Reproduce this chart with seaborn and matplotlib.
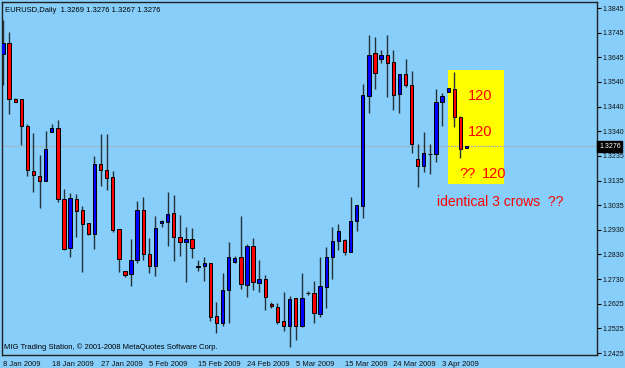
import numpy as np
import pandas as pd
import matplotlib
matplotlib.use("Agg")
import matplotlib.pyplot as plt
from matplotlib.patches import Rectangle
import seaborn as sns

# ---------------- data (EURUSD daily) ----------------
opens = [1.3654, 1.3700, 1.3469, 1.3469, 1.3358, 1.3173, 1.3155, 1.3132, 1.3334, 1.3350,
         1.3058, 1.2859, 1.3060, 1.3012, 1.2959, 1.2915, 1.3202, 1.3180, 1.3148, 1.2934,
         1.2764, 1.2749, 1.2809, 1.3012, 1.2831, 1.2783, 1.2959, 1.2966, 1.3000, 1.2903,
         1.2881, 1.2894, 1.2778, 1.2785, 1.2794, 1.2578, 1.2550, 1.2683, 1.2801, 1.2819,
         1.2705, 1.2866, 1.2715, 1.2731, 1.2627, 1.2616, 1.2557, 1.2536, 1.2650, 1.2536,
         1.2673, 1.2673, 1.2586, 1.2698, 1.2822, 1.2886, 1.2890, 1.2842, 1.2968, 1.3031,
         1.3484, 1.3659, 1.3635, 1.3652, 1.3622, 1.3490, 1.3573, 1.3528, 1.3224, 1.3196,
         1.3243, 1.3243, 1.3457, 1.3498, 1.3512, 1.3395, 1.3269]
highs = [1.3796, 1.3747, 1.3475, 1.3469, 1.3366, 1.3329, 1.3240, 1.3340, 1.3366, 1.3384,
         1.3099, 1.3085, 1.3080, 1.3030, 1.2959, 1.3236, 1.3325, 1.3325, 1.3175, 1.2934,
         1.2764, 1.2893, 1.3052, 1.3066, 1.2900, 1.2990, 1.2973, 1.3089, 1.3074, 1.2993,
         1.2943, 1.2938, 1.2808, 1.2822, 1.2794, 1.2636, 1.2756, 1.2882, 1.2824, 1.2989,
         1.2874, 1.2897, 1.2808, 1.2746, 1.2634, 1.2630, 1.2675, 1.2661, 1.2652, 1.2753,
         1.2682, 1.2720, 1.2822, 1.2863, 1.2945, 1.2955, 1.2893, 1.3066, 1.3034, 1.3532,
         1.3734, 1.3724, 1.3672, 1.3734, 1.3672, 1.3573, 1.3634, 1.3587, 1.3284, 1.3336,
         1.3284, 1.3512, 1.3495, 1.3515, 1.3583, 1.3400, 1.3276]
lows = [1.3528, 1.3409, 1.3458, 1.3281, 1.3155, 1.3088, 1.3021, 1.3132, 1.3334, 1.3048,
        1.2849, 1.2822, 1.2904, 1.2760, 1.2911, 1.2855, 1.3114, 1.3096, 1.2924, 1.2760,
        1.2739, 1.2701, 1.2797, 1.2808, 1.2753, 1.2742, 1.2943, 1.2867, 1.2805, 1.2826,
        1.2716, 1.2815, 1.2764, 1.2723, 1.2558, 1.2509, 1.2536, 1.2550, 1.2794, 1.2687,
        1.2657, 1.2684, 1.2676, 1.2602, 1.2612, 1.2543, 1.2516, 1.2451, 1.2479, 1.2531,
        1.2664, 1.2550, 1.2573, 1.2609, 1.2729, 1.2849, 1.2829, 1.2842, 1.2927, 1.2980,
        1.3412, 1.3510, 1.3617, 1.3480, 1.3425, 1.3414, 1.3521, 1.3250, 1.3110, 1.3171,
        1.3162, 1.3213, 1.3361, 1.3498, 1.3357, 1.3227, 1.3267]
closes = [1.3702, 1.3469, 1.3459, 1.3358, 1.3177, 1.3157, 1.3132, 1.3264, 1.3351, 1.3058,
          1.2852, 1.3063, 1.3010, 1.2957, 1.2915, 1.3202, 1.3178, 1.3147, 1.2931, 1.2811,
          1.2746, 1.2809, 1.3012, 1.2831, 1.2783, 1.2938, 1.2967, 1.2997, 1.2903, 1.2881,
          1.2894, 1.2859, 1.2785, 1.2794, 1.2572, 1.2550, 1.2683, 1.2822, 1.2816, 1.2708,
          1.2866, 1.2717, 1.2731, 1.2654, 1.2617, 1.2554, 1.2538, 1.2646, 1.2536, 1.2650,
          1.2674, 1.2589, 1.2702, 1.2822, 1.2886, 1.2927, 1.2842, 1.2968, 1.3034, 1.3487,
          1.3652, 1.3579, 1.3652, 1.3617, 1.3487, 1.3573, 1.3528, 1.3284, 1.3196, 1.3247,
          1.3244, 1.3457, 1.3483, 1.3515, 1.3395, 1.3264, 1.3276]

date_labels = ["8 Jan 2009", "18 Jan 2009", "27 Jan 2009", "5 Feb 2009", "15 Feb 2009",
               "24 Feb 2009", "5 Mar 2009", "15 Mar 2009", "24 Mar 2009", "3 Apr 2009"]
date_label_bars = [0, 8, 16, 24, 32, 40, 48, 56, 64, 72]
price_labels = ["1.3845", "1.3745", "1.3645", "1.3540", "1.3440", "1.3340", "1.3235",
                "1.3135", "1.3035", "1.2930", "1.2830", "1.2730", "1.2625", "1.2525", "1.2425"]
last_price = 1.3276
title_text = "EURUSD,Daily  1.3269 1.3276 1.3267 1.3276"
footer_text = "MIG Trading Station, \u00a9 2001-2008 MetaQuotes Software Corp."

df = pd.DataFrame({"open": opens, "high": highs, "low": lows, "close": closes})
df["bar"] = np.arange(len(df))
df["up"] = df["close"] >= df["open"]

# ---------------- style ----------------
BG = "#87CEFA"
sns.set_theme(style="white")
plt.rcParams["font.family"] = ["Liberation Sans", "DejaVu Sans"]
plt.rcParams["axes.facecolor"] = BG
plt.rcParams["figure.facecolor"] = BG

fig = plt.figure(figsize=(6.25, 3.68), dpi=100)
ax = fig.add_axes([2 / 625, 13 / 368, 595 / 625, 353 / 368])
ax.set_facecolor(BG)

# highlight box
ax.add_patch(Rectangle((72.95, 1.3119), 9.15, 0.0471, facecolor="#FFFF00",
                       edgecolor="none", zorder=1))

# last price line
ax.axhline(last_price, color="#a4acb4", lw=0.9, ls=(0, (1.5, 0.8)), zorder=1.5)

# wicks
ax.vlines(df["bar"], df["low"], df["high"], color="#263038", lw=1.0, zorder=2)

# bodies
width = 0.55
bottoms = np.minimum(df["open"], df["close"])
heights = np.maximum(np.abs(df["close"] - df["open"]), 0.00012)
colors = np.where(df["up"], "#0000FF", "#FF0000")
ax.bar(df["bar"], heights, bottom=bottoms, width=width, color=colors,
       edgecolor="black", linewidth=0.7, zorder=3)

ax.set_xlim(-0.164, 97.4)
ax.set_ylim(1.2417, 1.3870)

# axes ticks
ax.yaxis.tick_right()
ax.set_yticks(np.linspace(1.3845, 1.2425, len(price_labels)))
ax.set_yticklabels(price_labels, fontsize=5.0, color="#111111")
ax.set_xticks(date_label_bars)
ax.set_xticklabels(date_labels, fontsize=5.5, color="#111111", ha="left")
ax.tick_params(axis="both", which="both", direction="out", length=3, width=0.8,
               color="black", pad=1.0)
for s in ax.spines.values():
    s.set_visible(True)
    s.set_color("#222222")
    s.set_linewidth(1.0)

# current price tag
ax.annotate("1.3276", xy=(1.0, last_price), xycoords=("axes fraction", "data"),
            xytext=(1.5, 0), textcoords="offset points", fontsize=5.0, color="white",
            va="center", ha="left",
            bbox=dict(boxstyle="square,pad=0.25", fc="black", ec="black"))

# header / footer
ax.text(0.005, 0.985, title_text, transform=ax.transAxes, fontsize=5.5,
        color="black", va="top", ha="left")
ax.text(0.004, 0.012, footer_text, transform=ax.transAxes, fontsize=5.5,
        color="black", va="bottom", ha="left")

# annotations
ax.text(78.2, 1.3483, "120", color="#FF0000", fontsize=10.5, ha="center", va="center", zorder=4)
ax.text(78.2, 1.3335, "120", color="#FF0000", fontsize=10.5, ha="center", va="center", zorder=4)
ax.text(76.1, 1.3162, "??", color="#FF0000", fontsize=10.5, ha="center", va="center", zorder=4)
ax.text(80.6, 1.3162, "120", color="#FF0000", fontsize=10.5, ha="center", va="center", zorder=4)
ax.text(81.5, 1.3047, "identical 3 crows  ??", color="#FF0000", fontsize=10,
        ha="center", va="center", zorder=4)

fig.savefig("out.png", dpi=100, facecolor=BG)
